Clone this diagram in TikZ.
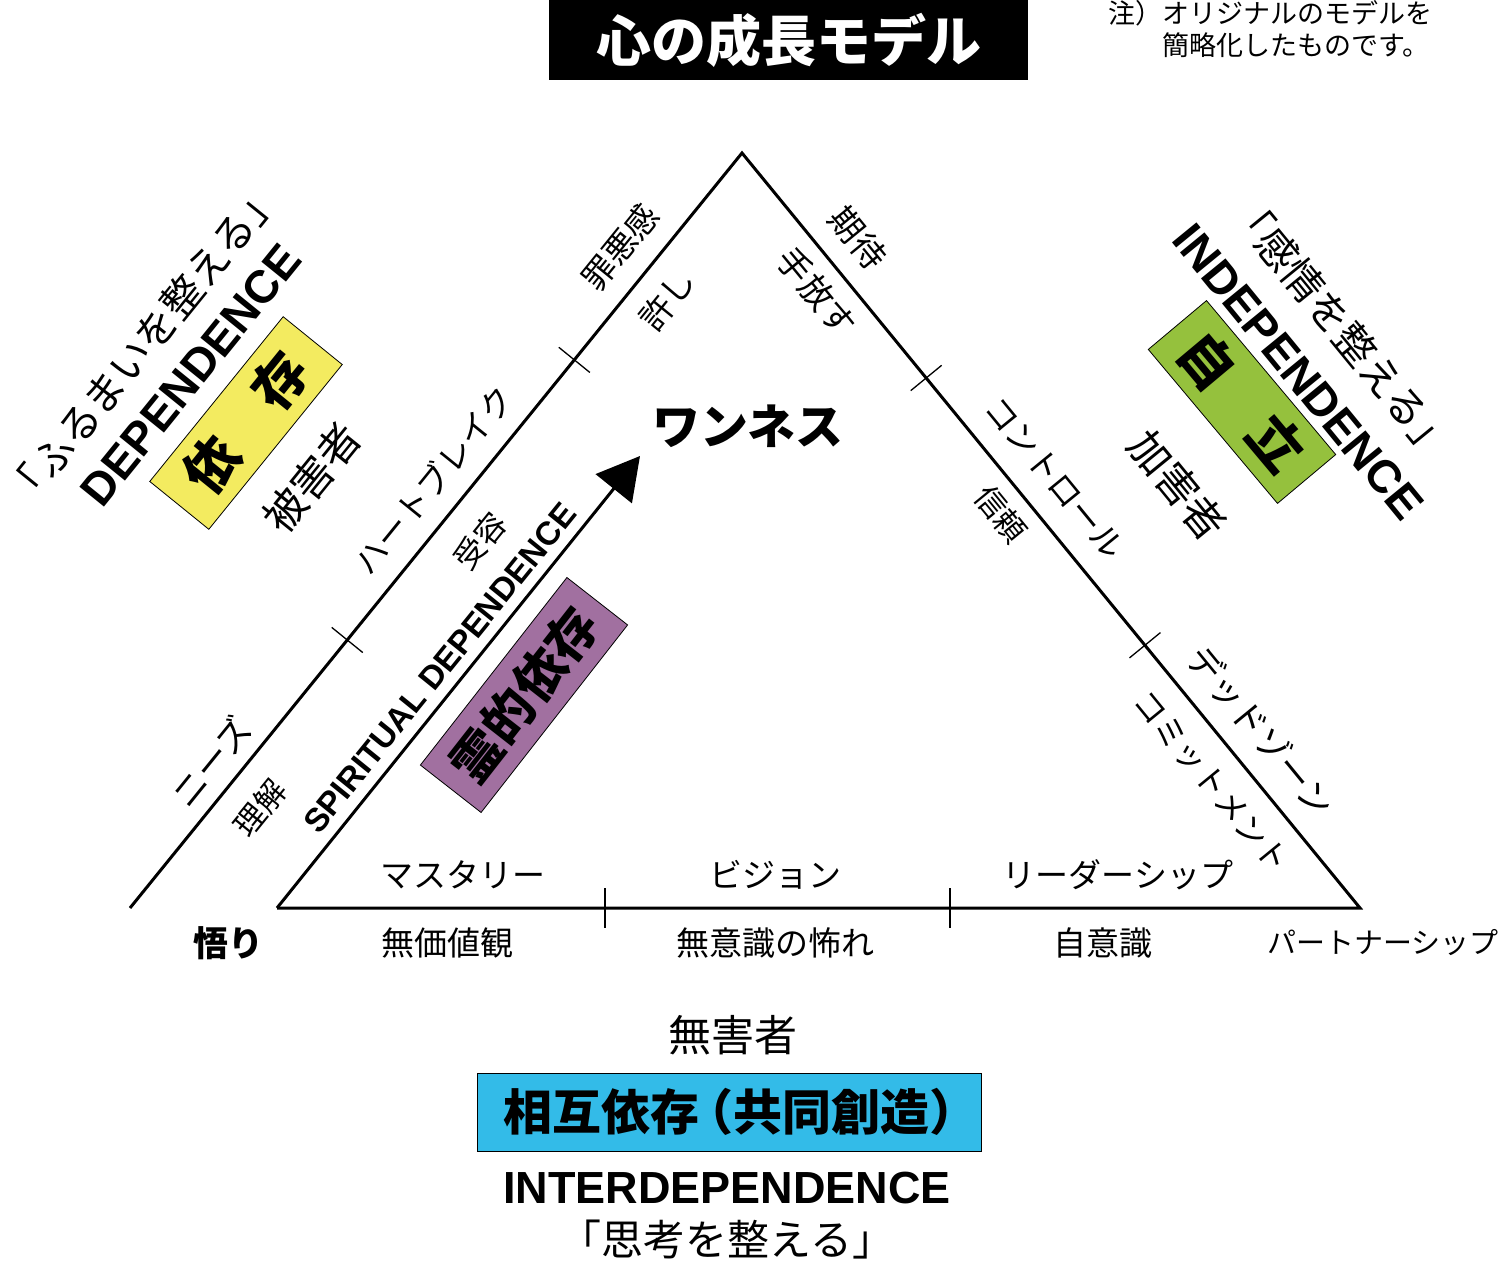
\documentclass[tikz,border=0pt]{standalone}
\usepackage{fontspec}
\setmainfont{Noto Sans CJK JP}
\newfontfamily\jp{Noto Sans CJK JP}
\newfontfamily\ar{Liberation Sans}
\usetikzlibrary{arrows.meta,calc}
\newcommand\fsz[1]{\fontsize{#1}{#1}\selectfont}
\definecolor{ybox}{RGB}{243,235,96}
\definecolor{gbox}{RGB}{149,193,61}
\definecolor{pbox}{RGB}{161,112,160}
\definecolor{bbox}{RGB}{51,187,232}
\begin{document}
\begin{tikzpicture}[x=1pt,y=-1pt,
  jl/.style={font=\jp\fsz{33}, inner sep=0pt},
  js/.style={font=\jp\fsz{31}, inner sep=0pt},
  lrot/.style={rotate=51},
  rrot/.style={rotate=-50.7},
  en/.style={font=\ar\bfseries\fsz{#1}, inner sep=0pt},
  colbox/.style={draw=black, line width=0.8pt, fill=#1, inner sep=0pt},
  tick/.style={line width=1.3pt},
  edge/.style={line width=3pt, line join=miter}]
\useasboundingbox (0,0) rectangle (1500,1265);

% title
\node[fill=black, minimum width=479pt, minimum height=80pt, inner sep=0pt,
      text=white, font=\jp\bfseries\fsz{55}] (title) at (788.5,40) {心の成長モデル};
\node[anchor=north west, align=left, inner sep=0pt, font=\jp\fontsize{27}{32}\selectfont]
  (note) at (1108,0) {注）オリジナルのモデルを\\\hspace*{2em}簡略化したものです。};

% triangle
\coordinate (A) at (742,153);
\coordinate (L) at (130,908);
\coordinate (B) at (277,908);
\coordinate (C) at (1360,908);
\coordinate (T) at (640,456);
\draw[edge] (L) -- (A) -- (C) -- (B);
\draw[line width=3pt, -{Triangle[length=42pt,width=46pt]}] (B) -- (T);

% ticks
\coordinate (lt1) at ($(A)!0.274!(L)$);
\coordinate (lt2) at ($(A)!0.645!(L)$);
\coordinate (rt1) at ($(A)!0.298!(C)$);
\coordinate (rt2) at ($(A)!0.652!(C)$);
\coordinate (bt1) at (605,908);
\coordinate (bt2) at (950,908);
\foreach \p/\q in {lt1/A, lt2/A, rt1/A, rt2/A, bt1/C, bt2/C}
  \draw[tick] ($(\p)!20pt!90:(\q)$) -- ($(\p)!20pt!-90:(\q)$);

% left side labels
\node[jl, lrot, font=\jp\fsz{35}] (needs) at (211,762) {ニーズ};
\node[jl, lrot] (heart) at (433,480) {ハートブレイク};
\node[jl, lrot] (guilt) at (620,247) {罪悪感};
\node[js, lrot] (rikai) at (260,808) {理解};
\node[js, lrot] (juyou) at (480,541) {受容};
\node[jl, lrot] (yurushi) at (667,300) {許し};
\node[en=33, lrot] (spir) at (440,668) {SPIRITUAL DEPENDENCE};

% right side labels
\node[jl, rrot, font=\jp\fsz{34}] (kitai) at (858,238) {期待};
\node[jl, rrot, font=\jp\fsz{34}] (tebanasu) at (817,292) {手放す};
\node[jl, rrot] (control) at (1055,478) {コントロール};
\node[js, rrot] (shinrai) at (1001,514) {信頼};
\node[jl, rrot, font=\jp\fsz{35}] (dead) at (1261,731) {デッドゾーン};
\node[jl, rrot, font=\jp\fsz{32}] (commit) at (1211,782) {コミットメント};

% oneness
\node[inner sep=0pt, font=\jp\bfseries\fsz{48}] (one) at (748,426) {ワンネス};

% base labels
\node[font=\jp\fsz{33}, inner sep=0pt] (mastery) at (463,875) {マスタリー};
\node[font=\jp\fsz{33}, inner sep=0pt] (vision) at (775,875) {ビジョン};
\node[font=\jp\fsz{33}, inner sep=0pt] (leader) at (1118,875) {リーダーシップ};
\node[font=\jp\bfseries\fsz{35}, inner sep=0pt] (satori) at (228,943) {悟り};
\node[font=\jp\fsz{33}, inner sep=0pt] (mukachi) at (447,943) {無価値観};
\node[font=\jp\fsz{33}, inner sep=0pt] (muishiki) at (775,943) {無意識の怖れ};
\node[font=\jp\fsz{33}, inner sep=0pt] (jiishiki) at (1103,943) {自意識};
\node[font=\jp\fsz{29}, inner sep=0pt] (partner) at (1383,943) {パートナーシップ};

% left block: dependence
\node[font=\jp\fsz{41}, inner sep=0pt, lrot] (furumai) at (143,345) {「ふるまいを整える」};
\node[en=46, lrot] (dep) at (191,375) {DEPENDENCE};
\node[colbox=ybox, minimum width=212pt, minimum height=76pt, lrot,
      font=\jp\bfseries\fsz{54}] (ybx) at (246,423) {依　存};
\node[font=\jp\fsz{42}, inner sep=0pt, lrot] (higai) at (312,478) {被害者};

% right block: independence
\node[font=\jp\fsz{41}, inner sep=0pt, rrot] (kanjou) at (1342,328) {「感情を整える」};
\node[en=46, rrot] (indep) at (1298,372) {INDEPENDENCE};
\node[colbox=gbox, minimum width=201pt, minimum height=76pt, rotate=-50,
      font=\jp\bfseries\fsz{54}] (gbx) at (1242,402) {自　立};
\node[font=\jp\fsz{42}, inner sep=0pt, rrot] (kagai) at (1178,485) {加害者};

% spiritual dependence box
\node[colbox=pbox, minimum width=238pt, minimum height=77pt, rotate=52,
      font=\jp\bfseries\fsz{51}] (pbx) at (524,695) {霊的依存};

% bottom block
\node[font=\jp\fsz{43}, inner sep=0pt] (mugai) at (733,1035) {無害者};
\node[colbox=bbox, minimum width=504pt, minimum height=78pt] (bbx) at (729,1112) {};
\node[inner sep=0pt, font=\jp\bfseries\fsz{49}] (bbxt) at (bbx)
  {\kern0.1em相互依存\kern-0.3em（共同創造）\kern-0.4em};
\node[en=45] (interdep) at (727,1188) {INTERDEPENDENCE};
\node[font=\jp\fsz{42}, inner sep=0pt] (shikou) at (727,1240) {「思考を整える」};
\end{tikzpicture}
\end{document}
